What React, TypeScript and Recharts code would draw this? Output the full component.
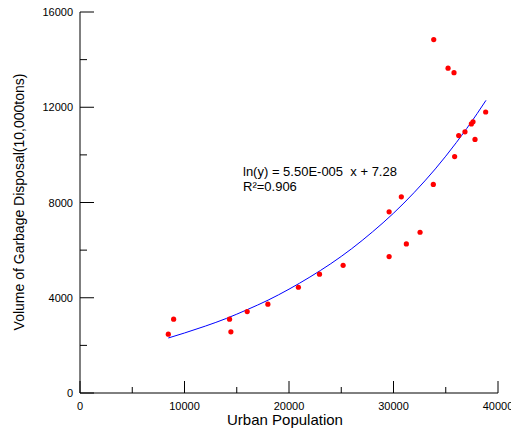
import { ScatterChart, Scatter, XAxis, YAxis } from "recharts"

// observed points (urban population, garbage disposal in 10,000 tons)
const population = [8450, 8960, 14310, 14440, 16000, 17980, 20900, 22920, 25180, 29580, 29580, 30750, 31230, 32540, 33810, 33850, 35220, 35790, 35850, 36240, 36840, 37450, 37610, 37800, 38820]
const disposal = [2470, 3100, 3100, 2570, 3420, 3730, 4440, 4990, 5360, 5730, 7610, 8240, 6260, 6750, 8760, 14840, 13640, 13450, 9930, 10810, 10970, 11300, 11390, 10650, 11800]

// fitted curve
const curveX = [8450, 10000, 12000, 14000, 16000, 18000, 20000, 22000, 24000, 26000, 28000, 30000, 32000, 34000, 36000, 38000, 38850]
const curveY = [2310, 2520, 2810, 3130, 3500, 3900, 4360, 4870, 5430, 6060, 6770, 7550, 8430, 9410, 10510, 11730, 12290]

const xTicks = [0, 5000, 10000, 15000, 20000, 25000, 30000, 35000, 40000]
const yTicks = [0, 2000, 4000, 6000, 8000, 10000, 12000, 14000, 16000]

const points = population.map((x, i) => ({ x, y: disposal[i] }))
const curve = curveX.map((x, i) => ({ x, y: curveY[i] }))

const font = "Arial, 'Liberation Sans', sans-serif"

const XTick = (props: any) => {
  const { x, y, payload } = props
  const major = payload.value % 10000 === 0
  return (
    <g>
      <line x1={x} y1={y} x2={x} y2={y - (major ? 12 : 6)} stroke="#000" />
      {major && (
        <text x={x} y={y + 17} textAnchor="middle" fontSize={11} fontFamily={font} fill="#000">
          {payload.value}
        </text>
      )}
    </g>
  )
}

const YTick = (props: any) => {
  const { x, y, payload } = props
  const major = payload.value % 4000 === 0
  return (
    <g>
      <line x1={x} y1={y} x2={x + (major ? 14 : 7)} y2={y} stroke="#000" />
      {major && (
        <text x={x - 7} y={y + 4} textAnchor="end" fontSize={11} fontFamily={font} fill="#000">
          {payload.value}
        </text>
      )}
    </g>
  )
}

const Dot = (props: any) => <circle cx={props.cx} cy={props.cy} r={2.6} fill="#ff0000" />

export default function App() {
  return (
    <div style={{ position: "absolute", left: 0, top: 0, width: 511, height: 428, background: "#fff" }}>
      <ScatterChart width={511} height={428} margin={{ top: 12, right: 13, bottom: 0, left: 0 }}>
        <XAxis
          type="number"
          dataKey="x"
          domain={[0, 40000]}
          ticks={xTicks}
          interval={0}
          height={35}
          tickSize={0}
          tickMargin={0}
          tick={<XTick />}
          axisLine={{ stroke: "#000" }}
          allowDataOverflow
        />
        <YAxis
          type="number"
          dataKey="y"
          domain={[0, 16000]}
          ticks={yTicks}
          interval={0}
          width={80}
          tickSize={0}
          tickMargin={0}
          tick={<YTick />}
          axisLine={{ stroke: "#000" }}
          allowDataOverflow
        />
        <Scatter
          data={curve}
          line={{ stroke: "#0000ff", strokeWidth: 1 }}
          lineType="joint"
          lineJointType="monotoneX"
          shape={() => <g />}
          isAnimationActive={false}
        />
        <Scatter data={points} shape={<Dot />} isAnimationActive={false} />
      </ScatterChart>
      <svg width={511} height={428} style={{ position: "absolute", left: 0, top: 0, pointerEvents: "none" }}>
        <text x={243} y={176} fontSize={13} fontFamily={font} fill="#000">
          ln(y) = 5.50E-005{"\u00a0\u00a0"}x + 7.28
        </text>
        <text x={243} y={191} fontSize={13} fontFamily={font} fill="#000">
          R²=0.906
        </text>
        <text x={285} y={425} textAnchor="middle" fontSize={15} fontFamily={font} fill="#000">
          Urban Population
        </text>
        <text
          x={0}
          y={0}
          transform="translate(24 202) rotate(-90)"
          textAnchor="middle"
          fontSize={14}
          fontFamily={font}
          fill="#000"
        >
          Volume of Garbage Disposal(10,000tons)
        </text>
      </svg>
    </div>
  )
}
